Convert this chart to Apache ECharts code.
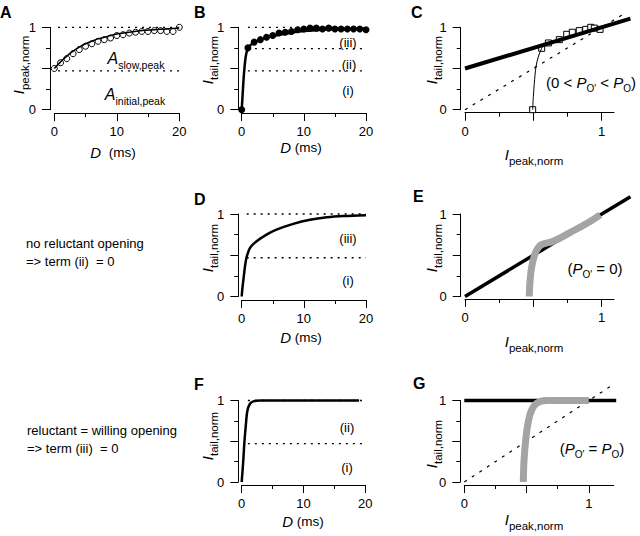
<!DOCTYPE html>
<html><head><meta charset="utf-8">
<script src="https://cdn.jsdelivr.net/npm/echarts@6/dist/echarts.min.js"></script>
<style>html,body{margin:0;padding:0;background:#fff}#c{width:640px;height:536px}</style>
</head><body><div id="c"></div>
<script>
// ---------- data ----------
const delayMs  = [0,1,2,3,4,5,6,7,8,9,10,11,12,13,14,15,16,17,18,19,20];
const peakNorm = [0.50,0.57,0.62,0.68,0.73,0.77,0.80,0.83,0.85,0.87,0.90,0.91,0.93,0.94,0.95,0.95,0.96,0.96,0.95,0.95,1.00];
const tailNorm = [0.00,0.75,0.82,0.85,0.88,0.90,0.93,0.94,0.95,0.97,0.98,0.99,0.99,0.98,0.99,0.98,0.98,0.98,0.98,0.98,0.97];

const peakFitD = [0,1,2,3,4,5,6,7,8,10,12,14,16,18,20];
const peakFitI = [0.50,0.58,0.65,0.71,0.76,0.80,0.83,0.86,0.88,0.92,0.94,0.96,0.97,0.98,0.99];

const tailFitD = [0,0.1,0.2,0.3,0.4,0.5,0.6,0.8,1,1.5,2,3,4,5,6,8,10,12,15,20];
const tailFitI = [0,0.12,0.25,0.37,0.47,0.55,0.62,0.70,0.745,0.79,0.815,0.85,0.875,0.895,0.91,0.935,0.955,0.965,0.975,0.985];

const noReluctD = [0,0.1,0.27,0.54,0.8,1.34,2.4,4,5.6,8.3,11,13.7,16.4,20];
const noReluctI = [0,0.09,0.2,0.37,0.48,0.59,0.67,0.75,0.81,0.88,0.93,0.96,0.975,0.985];

const equalD = [0,0.27,0.43,0.65,0.91,1.34,1.88,2.96,19];
const equalI = [0,0.28,0.48,0.68,0.87,0.96,0.99,1.0,1.0];

const levelsA = [1, 0.47];
const levelsB = [1, 0.74, 0.47];
const levelsD = [1, 0.47];
const levelsF = [1, 0.47];

// panel C
const cFitX = [0, 1.21];        const cFitY = [0.5, 1.105];
const unityX = [0, 1.15];       const unityY = [0, 1.15];
const cCurveX = [0.495,0.5,0.507,0.519,0.536,0.561,0.585];
const cCurveY = [0,0.16,0.32,0.52,0.64,0.745,0.79];
const cPeak = [0.495,0.561,0.61,0.69,0.744,0.785,0.836,0.883,0.92,0.946,0.988];
const cTail = [0,0.745,0.81,0.85,0.915,0.94,0.96,0.975,1.0,0.99,0.975];

// panel E
const eLineX = [0, 1.21];       const eLineY = [0, 1.21];
const eGrayX = [0.47,0.476,0.488,0.512,0.535,0.561,0.646,0.768,0.89,0.99];
const eGrayY = [0,0.2,0.36,0.52,0.59,0.63,0.67,0.775,0.885,0.99];

// panel G
const gLineX = [0, 1.22];       const gLineY = [1, 1];
const gUnityX = [0, 1.18];      const gUnityY = [0, 1.18];
const gGrayX = [0.474,0.48,0.496,0.514,0.54,0.58,0.66,1.0];
const gGrayY = [0,0.27,0.556,0.74,0.88,0.965,1.0,1.0];

// tick values
const dTicksMajor = [0,10,20], dTicksMinor = [5,15], dTickLabels = [0,10,20];
const iTicksMajor = [0,0.5,1], iTicksMinor = [0.25,0.75], iTickLabels = [0,1];

// ---------- layout ----------
const F = 'Liberation Sans';
const panels = [
  {left:54.3, top:27.3, w:125,   h:82.4, xMax:20,   xOff:3.5, yOff:4.3, kind:'D'},
  {left:241.7,top:27.3, w:124.3, h:82.4, xMax:20,   xOff:3.3, yOff:3.4, kind:'D'},
  {left:465,  top:27.3, w:149,   h:82.4, xMax:1.09, xOff:3.0, yOff:4.3, kind:'I', ext:1.3},
  {left:241.7,top:214,  w:124.3, h:82.5, xMax:20,   xOff:3.5, yOff:3.4, kind:'D'},
  {left:465,  top:214,  w:149,   h:82.5, xMax:1.09, xOff:2.5, yOff:4.3, kind:'I', ext:1.3},
  {left:241.7,top:400.5,w:123.5, h:81.5, xMax:20,   xOff:3.0, yOff:3.4, kind:'D'},
  {left:464.3,top:400.5,w:149.4, h:81.5, xMax:1.2,  xOff:3.0, yOff:4.0, kind:'I', ext:1.3}
];

const grids = [], xAxes = [], yAxes = [];
const lbl = {color:'#000', fontSize:13, fontFamily:F};
const axIdx = [], extIdx = {};
panels.forEach((p, gi) => {
  grids.push({left:p.left, top:p.top, width:p.w, height:p.h, containLabel:false, outerBoundsMode:'none'});
  const xMaj = p.kind==='D' ? dTicksMajor : iTicksMajor;
  const xMin = p.kind==='D' ? dTicksMinor : iTicksMinor;
  const xLab = p.kind==='D' ? dTickLabels : iTickLabels;
  const common = {gridIndex:gi, type:'value', min:0, splitLine:{show:false}, silent:true};
  axIdx.push({x:xAxes.length, y:yAxes.length});
  xAxes.push(Object.assign({}, common, {max:p.xMax, position:'bottom', offset:p.xOff,
    axisLine:{show:true, onZero:false, lineStyle:{color:'#000', width:1}},
    axisTick:{show:true, customValues:xMaj, length:8, lineStyle:{color:'#000', width:1}},
    axisLabel:Object.assign({show:true, customValues:xLab, margin:12}, lbl)}));
  xAxes.push(Object.assign({}, common, {max:p.xMax, position:'bottom', offset:p.xOff,
    axisLine:{show:false, onZero:false},
    axisTick:{show:true, customValues:xMin, length:4, lineStyle:{color:'#000', width:1}},
    axisLabel:{show:false}}));
  yAxes.push(Object.assign({}, common, {max:1, position:'left', offset:p.yOff,
    axisLine:{show:true, onZero:false, lineStyle:{color:'#000', width:1}},
    axisTick:{show:true, customValues:iTicksMajor, length:8, lineStyle:{color:'#000', width:1}},
    axisLabel:Object.assign({show:true, customValues:iTickLabels, margin:14}, lbl)}));
  yAxes.push(Object.assign({}, common, {max:1, position:'left', offset:p.yOff,
    axisLine:{show:false, onZero:false},
    axisTick:{show:true, customValues:iTicksMinor, length:4, lineStyle:{color:'#000', width:1}},
    axisLabel:{show:false}}));
});
// wider, hidden coordinate systems (same scale) for lines running past the drawn axes
panels.forEach((p, gi) => {
  if (!p.ext) return;
  const k = grids.length;
  grids.push({left:p.left, top:p.top, width:p.w * p.ext / p.xMax, height:p.h, containLabel:false, outerBoundsMode:'none'});
  extIdx[gi] = {x:xAxes.length, y:yAxes.length};
  xAxes.push({gridIndex:k, type:'value', min:0, max:p.ext, show:false});
  yAxes.push({gridIndex:k, type:'value', min:0, max:1, show:false});
});

const xy = (xs, ys) => xs.map((x, i) => [x, ys[i]]);
const series = [];
function line(gi, data, style, extra, wide) {
  const ix = wide ? extIdx[gi] : axIdx[gi];
  series.push(Object.assign({type:'line', xAxisIndex:ix.x, yAxisIndex:ix.y, data, symbol:'none',
    showSymbol:false, clip:false, silent:true, animation:false,
    lineStyle:Object.assign({color:'#000', width:1, opacity:1}, style)}, extra||{}));
}
function dots(gi, data, itemStyle, symbol, size) {
  series.push({type:'scatter', xAxisIndex:axIdx[gi].x, yAxisIndex:axIdx[gi].y, data, symbol, symbolSize:size,
    clip:false, silent:true, animation:false, itemStyle:Object.assign({opacity:1}, itemStyle)});
}
const dotted = {type:[2,5], width:1.3};
const levelLines = (gi, levels, x0) => levels.forEach(l => line(gi, [[x0,l],[20,l]], dotted));

// A
levelLines(0, levelsA, 0.6);
line(0, xy(peakFitD, peakFitI), {width:1.5}, {smooth:0.3});
dots(0, xy(delayMs, peakNorm), {color:'#fff', borderColor:'#000', borderWidth:1}, 'circle', 6);
// B
levelLines(1, levelsB, 1);
line(1, xy(tailFitD, tailFitI), {width:2.5}, {smooth:0.3});
dots(1, xy(delayMs, tailNorm), {color:'#000'}, 'circle', 7);
// C
line(2, xy(unityX, unityY), {type:[3,6], width:1.2}, null, true);
line(2, xy(cFitX, cFitY), {width:4}, null, true);
line(2, xy(cCurveX, cCurveY), {width:1}, {smooth:0.3});
dots(2, xy(cPeak, cTail), {color:'#fff', borderColor:'#000', borderWidth:1}, 'rect', 6);
// D
levelLines(3, levelsD, 0.8);
line(3, xy(noReluctD, noReluctI), {width:2.5}, {smooth:0.3});
// E
line(4, xy(eLineX, eLineY), {width:3.5}, null, true);
line(4, xy(eGrayX, eGrayY), {width:7, color:'#a4a4a4', cap:'butt'}, {smooth:0.4});
// F
levelLines(5, levelsF, 1);
line(5, xy(equalD, equalI), {width:2.5}, {smooth:0.3});
// G
line(6, xy(gUnityX, gUnityY), {type:[3,6], width:1.2}, null, true);
line(6, xy(gLineX, gLineY), {width:3.5}, null, true);
line(6, xy(gGrayX, gGrayY), {width:7, color:'#a4a4a4', cap:'butt'}, {smooth:0.4});

// ---------- texts ----------
const RICH = {
  i:  {fontFamily:F, fontStyle:'italic', fontSize:15, lineHeight:16, verticalAlign:'top', fill:'#000'},
  s:  {fontFamily:F, fontSize:11.5, lineHeight:12, padding:[8,0,0,0], verticalAlign:'top', fill:'#000'},
  n:  {fontFamily:F, fontSize:13.5, lineHeight:16, verticalAlign:'top', fill:'#000'},
  ai: {fontFamily:F, fontStyle:'italic', fontSize:16, lineHeight:17, verticalAlign:'top', fill:'#000'},
  as: {fontFamily:F, fontSize:10.5, lineHeight:11, padding:[9,0,0,0], verticalAlign:'top', fill:'#000'},
  p:  {fontFamily:F, fontSize:15, lineHeight:17, verticalAlign:'top', fill:'#000'},
  pi: {fontFamily:F, fontStyle:'italic', fontSize:15, lineHeight:17, verticalAlign:'top', fill:'#000'},
  ps: {fontFamily:F, fontSize:10, lineHeight:10, padding:[9,0,0,0], verticalAlign:'top', fill:'#000'}
};
function txt(text, x, y, o) {
  o = o || {};
  const al = o.align || 'center', va = o.va || 'middle';
  return {type:'text', x, y, rotation:o.rot||0, silent:true, z:10,
    style:{text, fill:'#000', font:o.font || ('13px "' + F + '"'), rich:RICH,
      align:al, verticalAlign:va, textAlign:al, textVerticalAlign:va}};
}
const ROT = Math.PI/2;
const yPeak = '{i|I}{s|peak,norm}', yTail = '{i|I}{s|tail,norm}', xPeak = '{i|I}{s|peak,norm}';
const LF = 'bold 16px "' + F + '"';
const graphics = [
  // panel letters
  txt('A', 0, 4, {align:'left', va:'top', font:LF}),
  txt('B', 194, 4, {align:'left', va:'top', font:LF}),
  txt('C', 411, 4, {align:'left', va:'top', font:LF}),
  txt('D', 194, 191, {align:'left', va:'top', font:LF}),
  txt('E', 413, 188, {align:'left', va:'top', font:LF}),
  txt('F', 194, 376, {align:'left', va:'top', font:LF}),
  txt('G', 413, 375, {align:'left', va:'top', font:LF}),
  // y titles
  txt(yPeak, 19, 65, {rot:ROT}),
  txt(yTail, 208, 60, {rot:ROT}),
  txt(yTail, 432, 60, {rot:ROT}),
  txt(yTail, 208, 248, {rot:ROT}),
  txt(yTail, 432, 248, {rot:ROT}),
  txt(yTail, 208, 436, {rot:ROT}),
  txt(yTail, 432, 444, {rot:ROT}),
  // x titles
  txt('{i|D}{n|  (ms)}', 113, 153),
  txt('{i|D}{n| (ms)}', 301, 148),
  txt(xPeak, 534, 155),
  txt('{i|D}{n| (ms)}', 301, 338),
  txt(xPeak, 534, 342),
  txt('{i|D}{n| (ms)}', 303, 522),
  txt(xPeak, 534, 520),
  // annotations
  txt('{ai|A}{as|slow,peak}', 136, 59),
  txt('{ai|A}{as|initial,peak}', 135, 95),
  txt('(iii)', 348, 42), txt('(ii)', 349, 64), txt('(i)', 348, 90),
  txt('(iii)', 348, 238), txt('(i)', 348, 280),
  txt('(ii)', 347, 427), txt('(i)', 347, 467),
  txt("{p|(0 < }{pi|P}{ps|O'}{p| < }{pi|P}{ps|O}{p|)}", 591, 83),
  txt("{p|(}{pi|P}{ps|O'}{p| = 0)}", 595, 269),
  txt("{p|(}{pi|P}{ps|O'}{p| = }{pi|P}{ps|O}{p|)}", 592, 449),
  // left notes
  txt('no reluctant opening', 26, 243, {align:'left'}),
  txt('=> term (ii)  = 0', 26, 261, {align:'left'}),
  txt('reluctant = willing opening', 27, 430, {align:'left'}),
  txt('=> term (iii)  = 0', 27, 448, {align:'left'})
];

const chart = echarts.init(document.getElementById('c'), null, {renderer:'svg', width:640, height:536});
chart.setOption({
  animation:false,
  backgroundColor:'#fff',
  grid:grids, xAxis:xAxes, yAxis:yAxes, series, graphic:graphics
});
</script>
</body></html>
